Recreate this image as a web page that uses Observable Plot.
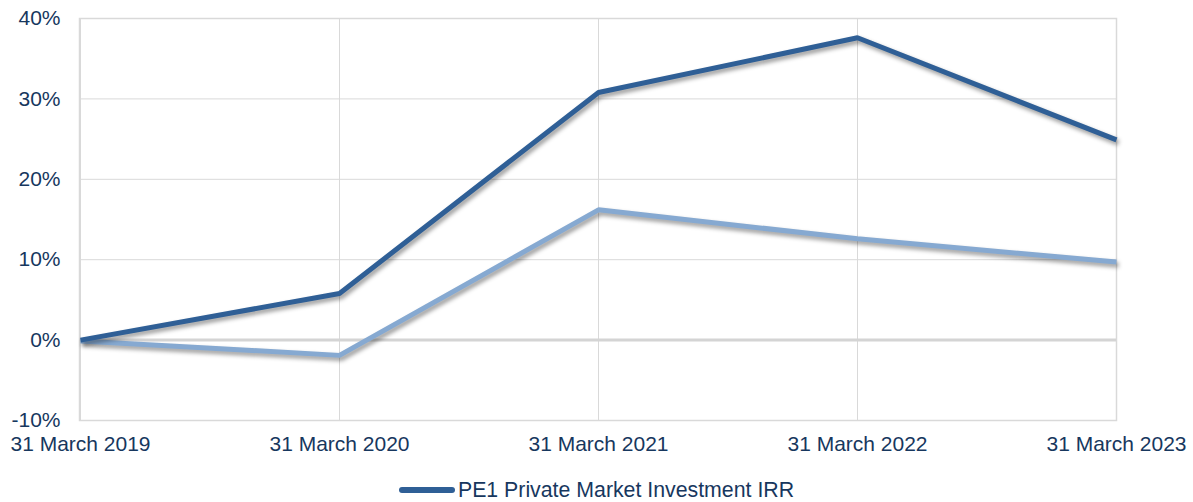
<!DOCTYPE html>
<html>
<head>
<meta charset="utf-8">
<script src="https://cdn.jsdelivr.net/npm/d3@7"></script>
<script src="https://cdn.jsdelivr.net/npm/@observablehq/plot@0.6"></script>
<style>
  html, body { margin: 0; padding: 0; background: #fff; }
  #wrap { position: relative; width: 1193px; height: 502px; overflow: hidden; font-family: "Liberation Sans", Arial, sans-serif; color: #17375e; }
  #legend { position: absolute; left: 0; width: 1193px; top: 476px; height: 28px; display: flex; justify-content: center; align-items: center; font-size: 21.3px; color: #17375e; }
  #legend .sw { display: inline-block; width: 56px; height: 6px; border-radius: 3px; background: #2f5f96; margin-right: 3px; }
  svg [aria-label="line"] path { filter: drop-shadow(2px 3px 2px rgba(0,0,0,0.4)); }
</style>
</head>
<body>
<div id="wrap"><div id="chart"></div><div id="legend"></div></div>
<script>
const dates = ["31 March 2019", "31 March 2020", "31 March 2021", "31 March 2022", "31 March 2023"];
const pe1Irr = [0.0, 5.8, 30.8, 37.6, 24.9];
const secondSeries = [-0.1, -1.9, 16.2, 12.6, 9.7];
const seriesNames = ["PE1 Private Market Investment IRR", "Comparator"];
const seriesColors = ["#2f5f96", "#86a9d1"];
const yTicks = [-10, 0, 10, 20, 30, 40];

const rows = [];
dates.forEach((d, i) => rows.push({date: d, value: secondSeries[i], series: seriesNames[1]}));
dates.forEach((d, i) => rows.push({date: d, value: pe1Irr[i], series: seriesNames[0]}));

const plot = Plot.plot({
  width: 1193,
  height: 460,
  marginLeft: 79,
  marginRight: 77,
  marginTop: 18,
  marginBottom: 40,
  style: {fontFamily: '"Liberation Sans", Arial, sans-serif', fontSize: "21px", color: "#17375e", background: "#fff", overflow: "visible"},
  x: {type: "point", domain: dates, padding: 0, label: null},
  y: {domain: [-10, 40], ticks: yTicks, label: null},
  color: {domain: seriesNames, range: seriesColors},
  marks: [
    Plot.gridY(yTicks, {stroke: "#d9d9d9", strokeOpacity: 1, strokeWidth: 1}),
    Plot.gridX(dates, {stroke: "#d9d9d9", strokeOpacity: 1, strokeWidth: 1}),
    Plot.frame({stroke: "#d9d9d9", strokeWidth: 1.5}),
    Plot.ruleY([0], {stroke: "#d4d4d4", strokeWidth: 3}),
    Plot.line(rows, {x: "date", y: "value", z: "series", stroke: "series", strokeWidth: 5, strokeLinejoin: "miter", strokeLinecap: "butt"}),
    Plot.axisY(yTicks, {tickSize: 0, tickPadding: 19, tickFormat: d => d + "%", fill: "#17375e"}),
    Plot.axisX(dates, {tickSize: 0, tickPadding: 16, fill: "#17375e"})
  ]
});
document.getElementById("chart").appendChild(plot);

const lg = document.getElementById("legend");
const sw = document.createElement("span"); sw.className = "sw";
const tx = document.createElement("span"); tx.textContent = seriesNames[0];
lg.appendChild(sw); lg.appendChild(tx);
</script>
</body>
</html>
